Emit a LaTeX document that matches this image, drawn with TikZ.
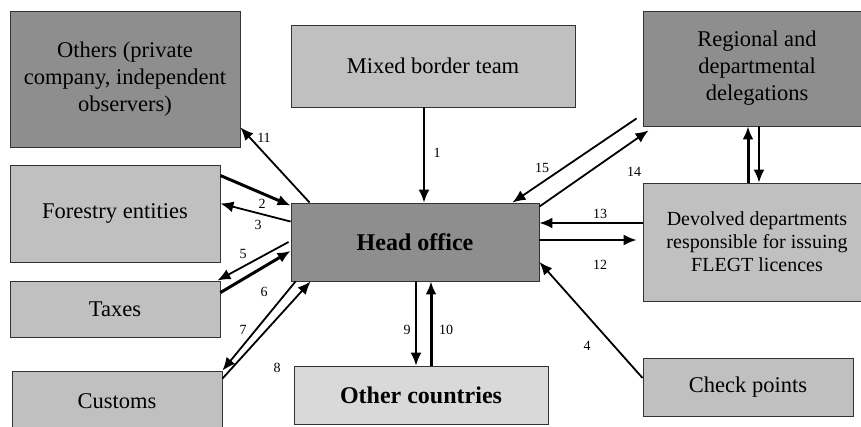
\documentclass[tikz,border=0pt]{standalone}
\usepackage{fontspec}
\setmainfont{Liberation Serif}
\usetikzlibrary{arrows.meta}
\definecolor{darkbox}{HTML}{8E8E8E}
\definecolor{lightbox}{HTML}{C0C0C0}
\definecolor{palebox}{HTML}{D9D9D9}
\definecolor{edge}{HTML}{333333}
\tikzset{
  box/.style={draw=edge, line width=0.9pt, rectangle, align=center, inner sep=2pt,
              font=\fontsize{22.5}{27}\selectfont},
  dbox/.style={box, fill=darkbox},
  lbox/.style={box, fill=lightbox},
  pbox/.style={box, fill=palebox},
  boldtext/.style={font=\fontsize{24}{27}\selectfont\bfseries},
  conn/.style={line width=1.8pt, -{Latex[length=13pt,width=11pt]}},
  thick conn/.style={conn, line width=3pt},
  num/.style={font=\fontsize{14}{14}\selectfont, inner sep=0pt}
}
\begin{document}
\begin{tikzpicture}[x=1pt,y=-1pt]
\useasboundingbox[fill=white] (0,0) rectangle (861,427);
% boxes
\node[dbox, minimum width=230pt, minimum height=136pt] (ot) at (125,79) {Others (private\\company, independent\\observers)};
\node[lbox, minimum width=210pt, minimum height=97pt] (fe) at (115,213.5) {Forestry entities};
\node[lbox, minimum width=210pt, minimum height=56pt] (tx) at (115,309) {Taxes};
\node[lbox, minimum width=210pt, minimum height=60pt] (cu) at (117,401) {Customs};
\node[lbox, minimum width=284pt, minimum height=82pt] (mb) at (433,66) {Mixed border team};
\node[dbox, boldtext, minimum width=248pt, minimum height=78pt] (ho) at (415,242) {Head office};
\node[pbox, boldtext, minimum width=254pt, minimum height=58pt] (oc) at (421,395) {Other countries};
\node[dbox, minimum width=228pt, minimum height=115pt] (rg) at (757,68.5) {Regional and\\departmental\\delegations};
\node[lbox, minimum width=228pt, minimum height=118pt, font=\fontsize{20}{23}\selectfont] (dv) at (757,242) {Devolved departments\\responsible for issuing\\FLEGT licences};
\node[lbox, minimum width=210pt, minimum height=58pt] (cp) at (748,387) {Check points};
% connectors
\draw[conn] ([xshift=-9pt]mb.south) -- ([xshift=9pt]ho.north);
\draw[conn] ([xshift=19pt]ho.north west) -- ([yshift=20pt]ot.south east);
\draw[thick conn] ([yshift=-11pt]fe.north east) -- ([yshift=-3pt]ho.north west);
\draw[conn] ([yshift=-19pt]ho.north west) -- ([yshift=10pt]fe.east);
\draw[conn] ([xshift=-2pt]ho.west) -- ([xshift=-3pt]tx.north east);
\draw[thick conn] ([yshift=-12pt]tx.north east) -- ([yshift=-9pt]ho.west);
\draw[conn] ([xshift=5pt]ho.south west) -- (cu.north east);
\draw[conn] ([yshift=-8pt]cu.north east) -- ([xshift=20pt]ho.south west);
\draw[conn] ([xshift=1pt]ho.south) -- ([xshift=-5pt]oc.north);
\draw[thick conn] ([xshift=10pt]oc.north) -- ([xshift=16pt]ho.south);
\draw[conn] ([xshift=-6pt,yshift=8pt]rg.south west) -- ([xshift=-27pt]ho.north east);
\draw[conn] ([yshift=-4pt]ho.north east) -- ([xshift=6pt,yshift=-4pt]rg.south west);
\draw[conn] ([yshift=19pt]dv.west) -- ([yshift=19pt]ho.east);
\draw[conn] ([yshift=2pt]ho.east) -- ([xshift=-6pt,yshift=2pt]dv.west);
\draw[conn] ([yshift=9pt]cp.west) -- ([yshift=-20pt]ho.east);
\draw[thick conn] ([xshift=-9pt]dv.north) -- ([xshift=-9pt]rg.south);
\draw[conn] ([xshift=2pt]rg.south) -- ([xshift=2pt]dv.north);
% labels
\node[num] (n1) at (437,153) {1};
\node[num] (n11) at (264,138) {11};
\node[num] (n2) at (262,204) {2};
\node[num] (n3) at (258,225) {3};
\node[num] (n5) at (243,254) {5};
\node[num] (n6) at (264,292) {6};
\node[num] (n7) at (243,330) {7};
\node[num] (n8) at (277,368) {8};
\node[num] (n9) at (407,330) {9};
\node[num] (n10) at (446,330) {10};
\node[num] (n15) at (542,168) {15};
\node[num] (n14) at (634,172) {14};
\node[num] (n13) at (600,214) {13};
\node[num] (n12) at (600,265) {12};
\node[num] (n4) at (587,346) {4};
\end{tikzpicture}
\end{document}
